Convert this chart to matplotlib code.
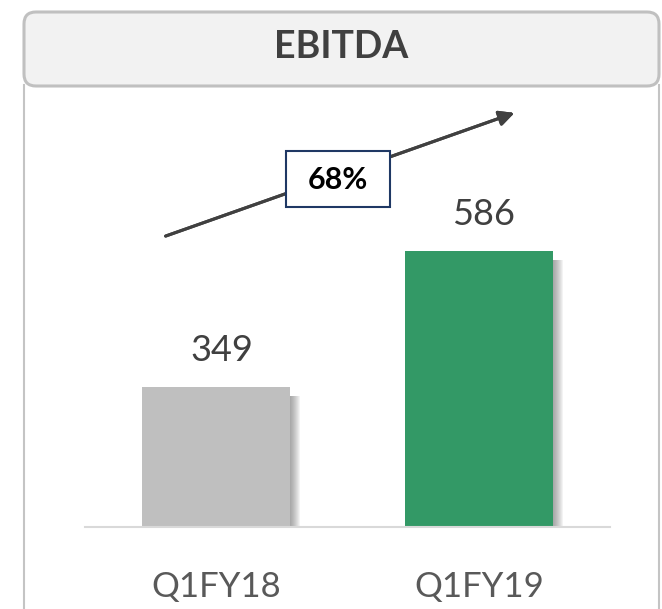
import matplotlib.pyplot as plt
from matplotlib.patches import FancyBboxPatch, Rectangle
from matplotlib.lines import Line2D

# data
periods = ['Q1FY18', 'Q1FY19']
ebitda = [349, 586]
growth_label = '68%'
bar_colors = ['#bfbfbf', '#339966']

W, H = 662, 609
fig = plt.figure(figsize=(W / 100, H / 100), dpi=100)
plt.rcParams['font.family'] = ['Lato', 'DejaVu Sans']


def fx(x):
    return x / W


def fy(y):
    return 1 - y / H


# panel frame
for xv in (24, 659):
    fig.add_artist(Line2D([fx(xv), fx(xv)], [fy(85), fy(612)], color='#c4c4c4', lw=1.5,
                          transform=fig.transFigure))
hdr = FancyBboxPatch((fx(24), fy(86)), fx(659) - fx(24), fy(12) - fy(86),
                     boxstyle='round,pad=0,rounding_size=0.018', transform=fig.transFigure,
                     facecolor='#f2f2f2', edgecolor='#c0c0c0', lw=2.2, mutation_aspect=662 / 609)
fig.add_artist(hdr)
fig.text(fx(341), fy(47), 'EBITDA', ha='center', va='center', fontsize=27,
         fontweight='bold', color='#404040')

# bars
ax = fig.add_axes([fx(85), fy(527), fx(610) - fx(85), fy(90) - fy(527)])
x = range(len(periods))
w = 0.565
ymin = 105
px = 2 / 525  # one pixel in x data units
for i, v in zip(x, ebitda):
    # soft shadow fading out to the right
    for k in range(10):
        ax.add_patch(Rectangle((i - w / 2, ymin), w + (k + 1) * px, v - ymin - 16,
                               facecolor='#606060', alpha=0.07, lw=0, zorder=1))
ax.bar(x, [v - ymin for v in ebitda], bottom=ymin, width=w, color=bar_colors, zorder=2)
for i, v in zip(x, ebitda):
    ax.text(i + 0.02, v + 35, str(v), ha='center', va='bottom', fontsize=26, color='#404040')
ax.set_xlim(-0.5, 1.5)
ax.set_ylim(ymin, 866)
ax.set_xticks(list(x))
ax.set_xticklabels(periods, fontsize=25, color='#595959')
ax.tick_params(axis='x', length=0, pad=32)
ax.set_yticks([])
for s in ['top', 'right', 'left']:
    ax.spines[s].set_visible(False)
ax.spines['bottom'].set_color('#d9d9d9')
ax.spines['bottom'].set_linewidth(1.5)
ax.patch.set_alpha(0)

# growth arrow with label
fig.add_artist(plt.annotate('', xy=(fx(517), fy(112)), xytext=(fx(163), fy(237)),
                            xycoords='figure fraction', textcoords='figure fraction',
                            arrowprops=dict(arrowstyle='-|>,head_length=0.9,head_width=0.45',
                                            color='#404040', lw=2.2)))
fig.add_artist(Rectangle((fx(286), fy(207)), fx(390) - fx(286), fy(151) - fy(207),
                         transform=fig.transFigure, facecolor='white', edgecolor='#1f3864',
                         lw=1.5, zorder=5))
fig.text(fx(338), fy(180), growth_label, ha='center', va='center', fontsize=22,
         fontweight='bold', color='black', zorder=6)

fig.savefig('out.png', dpi=100)
